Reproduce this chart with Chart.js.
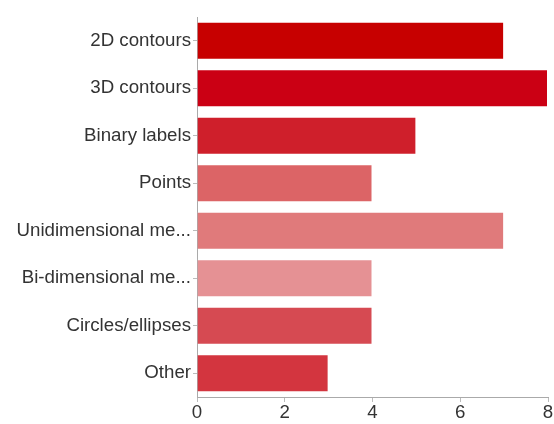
<!DOCTYPE html>
<html>
<head>
<meta charset="utf-8">
<script src="https://cdn.jsdelivr.net/npm/chart.js@4"></script>
<style>
  html, body { margin: 0; padding: 0; background: #fff; }
  #wrap { width: 554px; height: 424px; position: relative; }
</style>
</head>
<body>
<div id="wrap"><canvas id="chart"></canvas></div>
<script>
const categories = [
  '2D contours', '3D contours', 'Binary labels', 'Points',
  'Unidimensional me...', 'Bi-dimensional me...', 'Circles/ellipses', 'Other'
];
const counts = [7, 8, 5, 4, 7, 4, 4, 3];
const barColors = [
  '#c70000', '#cb0014', '#cf1f2b', '#dc6466',
  '#e07a7b', '#e59194', '#d64a52', '#d3353f'
];
const xTicks = [0, 2, 4, 6, 8];

const ctx = document.getElementById('chart').getContext('2d');
new Chart(ctx, {
  type: 'bar',
  data: {
    labels: categories,
    datasets: [{
      data: counts,
      backgroundColor: barColors,
      borderColor: 'rgba(255,255,255,0.35)',
      borderWidth: 1,
      categoryPercentage: 1,
      barPercentage: 0.8
    }]
  },
  options: {
    indexAxis: 'y',
    responsive: true,
    maintainAspectRatio: false,
    animation: false,
    layout: { padding: { top: 17, right: 6, left: 0, bottom: 0 } },
    plugins: {
      legend: { display: false },
      tooltip: { enabled: false }
    },
    scales: {
      x: {
        min: 0,
        max: 8,
        afterBuildTicks: (axis) => { axis.ticks = xTicks.map(v => ({ value: v })); },
        afterFit: (axis) => { axis.height = 27; },
        grid: { drawOnChartArea: false, tickLength: 5, color: '#bbb' },
        border: { color: '#aaa', width: 1 },
        ticks: { color: '#333', font: { family: 'Liberation Sans', size: 18.7 }, padding: 0, maxRotation: 0 }
      },
      y: {
        afterFit: (axis) => { axis.width = 197; },
        grid: { drawOnChartArea: false, offset: false, tickLength: 4, color: '#bbb' },
        border: { color: '#aaa', width: 1 },
        ticks: { color: '#333', font: { family: 'Liberation Sans', size: 18.7 }, padding: 2 }
      }
    }
  }
});
</script>
</body>
</html>
